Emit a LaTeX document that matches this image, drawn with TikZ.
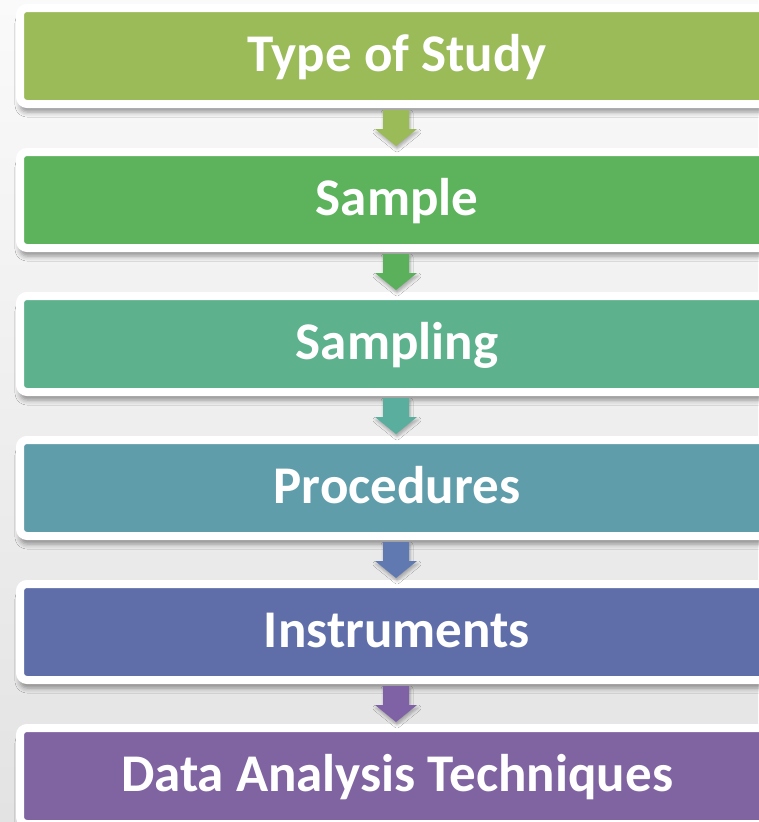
\documentclass[tikz,border=0pt]{standalone}
\usepackage{fontspec}
\setmainfont{Carlito}
\usetikzlibrary{calc, shadows, shadows.blur}
\definecolor{studygreen}{HTML}{9BBB59}
\definecolor{samplegreen}{HTML}{5CB35C}
\definecolor{samplingteal}{HTML}{5DB28D}
\definecolor{procblue}{HTML}{5F9DAB}
\definecolor{instrblue}{HTML}{5F6EA9}
\definecolor{analysispurple}{HTML}{8064A2}
\definecolor{arrowgreen}{HTML}{5BB05C}
\definecolor{arrowteal}{HTML}{5AAE9E}
\definecolor{arrowblue}{HTML}{6079B0}
\definecolor{arrowpurple}{HTML}{7F62A6}

\begin{document}
\begin{tikzpicture}[x=1pt,y=-1pt,
  stage/.style={draw=white, line width=8pt, rounded corners=7pt,
    minimum width=754pt, minimum height=96pt, inner sep=0pt,
    text=white, text height=41pt, text depth=10pt,
    font=\fontsize{53}{58}\selectfont\bfseries,
    blur shadow={shadow xshift=0pt, shadow yshift=-8pt,
      shadow blur radius=5pt, shadow opacity=40}},
  flowarrow/.style={blur shadow={shadow xshift=1pt, shadow yshift=-3pt,
      shadow blur radius=3pt, shadow opacity=30}}
]
\useasboundingbox (0,0) rectangle (758,822);
\shade[top color=black!2, bottom color=black!11] (0,0) rectangle (758,822);

% stages
\node[stage, fill=studygreen] (study) at (397,56) {Type of Study};
\node[stage, fill=samplegreen] (sample) at (397,200) {Sample};
\node[stage, fill=samplingteal] (sampling) at (397,344) {Sampling};
\node[stage, fill=procblue] (procedures) at (397,488) {Procedures};
\node[stage, fill=instrblue] (instruments) at (397,632) {Instruments};
\node[stage, fill=analysispurple] (analysis) at (397,776) {Data Analysis Techniques};

% arrows between the stages
\fill[studygreen, flowarrow] ($(study.south)!0.5!(sample.north)$) ++(-14,-18) -- ++(26,0) -- ++(0,19) -- ++(8,0) -- ++(-21,17) -- ++(-21,-17) -- ++(8,0) -- cycle;
\fill[arrowgreen, flowarrow] ($(sample.south)!0.5!(sampling.north)$) ++(-14,-18) -- ++(26,0) -- ++(0,19) -- ++(8,0) -- ++(-21,17) -- ++(-21,-17) -- ++(8,0) -- cycle;
\fill[arrowteal, flowarrow] ($(sampling.south)!0.5!(procedures.north)$) ++(-14,-18) -- ++(26,0) -- ++(0,19) -- ++(8,0) -- ++(-21,17) -- ++(-21,-17) -- ++(8,0) -- cycle;
\fill[arrowblue, flowarrow] ($(procedures.south)!0.5!(instruments.north)$) ++(-14,-18) -- ++(26,0) -- ++(0,19) -- ++(8,0) -- ++(-21,17) -- ++(-21,-17) -- ++(8,0) -- cycle;
\fill[arrowpurple, flowarrow] ($(instruments.south)!0.5!(analysis.north)$) ++(-14,-18) -- ++(26,0) -- ++(0,19) -- ++(8,0) -- ++(-21,17) -- ++(-21,-17) -- ++(8,0) -- cycle;
\end{tikzpicture}
\end{document}
